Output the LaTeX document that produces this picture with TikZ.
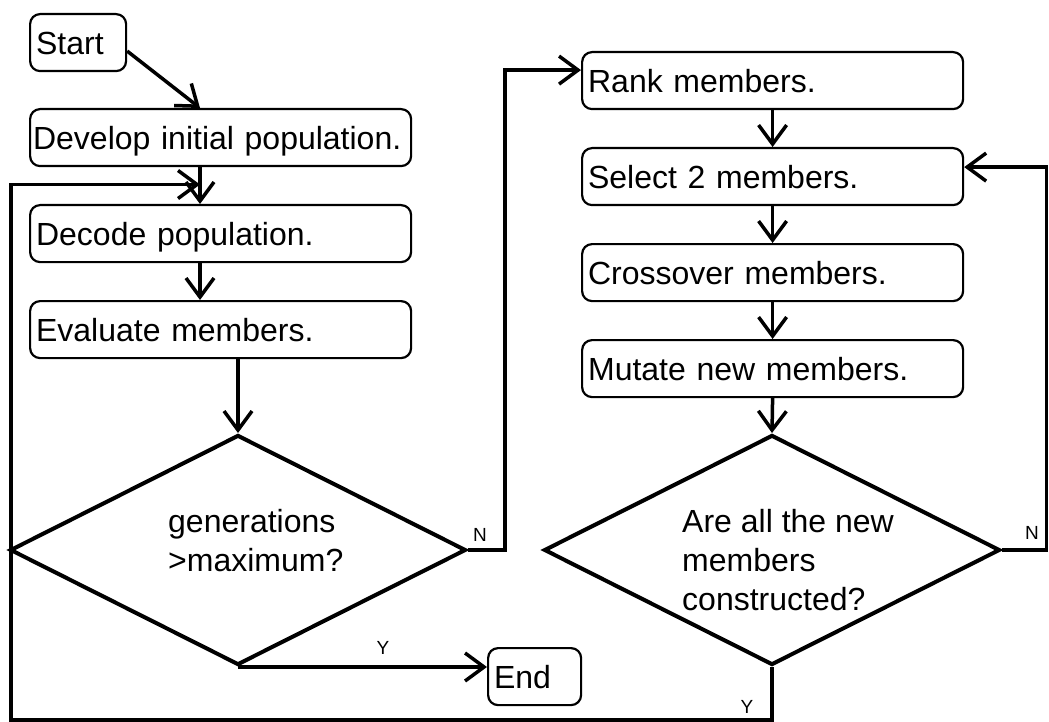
\documentclass[tikz,border=0pt]{standalone}
\usepackage{fontspec}
\setmainfont{Liberation Sans}
\usetikzlibrary{shapes.geometric,arrows.meta,calc}

\begin{document}
\begin{tikzpicture}[x=1pt,y=-1pt,
  stepbox/.style={draw, line width=2.2pt, rounded corners=10pt, inner xsep=6pt, inner ysep=0pt,
    minimum height=57pt, anchor=north west, align=left, text height=23pt, text depth=0pt,
    font=\fontsize{32}{38}\selectfont},
  decision/.style={draw, shape=diamond, line width=4pt, minimum width=456pt,
    minimum height=230pt, inner sep=0pt},
  qtext/.style={anchor=base west, align=left, inner sep=0pt, font=\fontsize{32}{39}\selectfont},
  yn/.style={font=\fontsize{19}{22}\selectfont, inner sep=0pt},
  conn/.style={line width=3.5pt, -{Straight Barb[length=19pt,width=28pt]}}
]
% page area
\fill[white] (0,0) rectangle (1049,722);

% left column: setup and evaluation
\node[stepbox, text width=84pt] (start) at (29,13) {Start};
\node[stepbox, text width=375pt, inner xsep=3pt] (develop) at (29,108) {Develop initial population.};
\node[stepbox, text width=369pt] (decode) at (29,204) {Decode population.};
\node[stepbox, text width=369pt] (evaluate) at (29,300) {Evaluate members.};
\node[decision] (d1) at (238,550) {};
% base anchor of a multi-line node sits on its last line
\node[qtext] (q1) at (168,571) {generations\\>maximum?};
\node[stepbox, text width=81pt] (end) at (487,647) {End};

% right column: building the next generation
\node[stepbox, text width=369pt] (rank) at (581,51) {Rank members.};
\node[stepbox, text width=369pt] (select) at (581,147) {Select 2 members.};
\node[stepbox, text width=369pt] (cross) at (581,243) {Crossover members.};
\node[stepbox, text width=369pt] (mutate) at (581,339) {Mutate new members.};
\node[decision] (d2) at (772,550) {};
\node[qtext] (q2) at (682,610) {Are all the new\\members\\constructed?};

% routing points
\coordinate (merge) at (200,184.5);
\coordinate (corner) at (11,720);
\coordinate (nturn) at (505,0);
\coordinate (rturn) at (1046.5,0);

% connectors
\draw[conn] ([yshift=-8.5pt]start.east) -- (develop.north -| merge);
\draw[conn] (develop.south -| merge) -- (decode.north -| merge);
\draw[conn] (decode.south -| merge) -- (evaluate.north -| merge);
\draw[conn] (evaluate.south -| d1.north) -- (d1.north);
\draw[conn] (d1.east) -- (d1.east -| nturn) |- ([yshift=10.5pt]rank.west);
\draw[conn] (d1.south) -- (d1.south -| end.west);

\draw[conn] (rank.south) -- (select.north);
\draw[conn] (select.south) -- (cross.north);
\draw[conn] (cross.south) -- (mutate.north);
\draw[conn] (mutate.south) -- (d2.north);
\draw[conn] (d2.east) -- (d2.east -| rturn) |- ([yshift=9.5pt]select.east);
\draw[conn] (d2.south) -- (d2.south |- corner) -- (corner) |- (merge);

% branch labels
\node[yn] at (480,535) {N};
\node[yn] at (383,648) {Y};
\node[yn] at (1032,533) {N};
\node[yn] at (747,707) {Y};
\end{tikzpicture}
\end{document}
